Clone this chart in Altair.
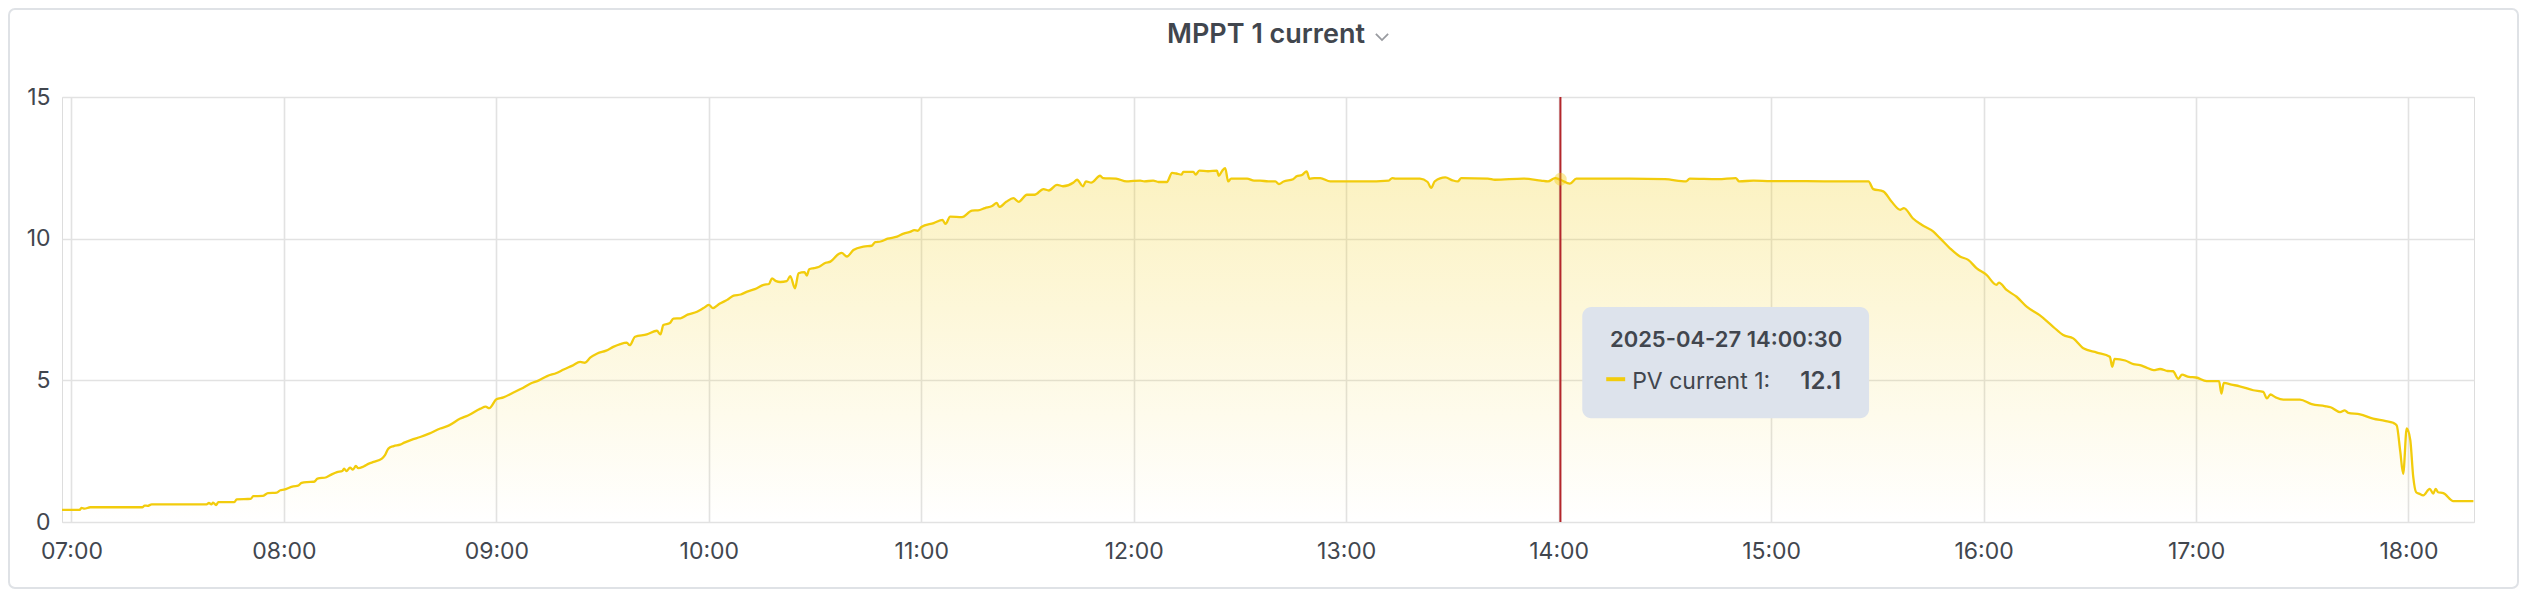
import altair as alt
import pandas as pd

DAY = "2025-04-27"
SERIES_NAME = "PV current 1"
TITLE = "MPPT 1 current"
LINE_COLOR = "#F2CC0C"
TEXT_COLOR = "#41464e"

times = [
    "06:57:20", "07:02:20", "07:02:50", "07:03:40", "07:05:20", "07:20:00", "07:20:40", "07:21:30",
    "07:22:40", "07:38:10", "07:38:50", "07:39:30", "07:40:00", "07:40:50", "07:41:30", "07:46:00",
    "07:46:40", "07:50:40", "07:51:20", "07:54:00", "07:55:30", "07:58:00", "07:59:00", "08:00:00",
    "08:02:40", "08:04:00", "08:05:00", "08:06:30", "08:08:30", "08:09:30", "08:12:00", "08:13:30",
    "08:15:00", "08:16:30", "08:17:00", "08:17:40", "08:18:40", "08:19:30", "08:20:20", "08:21:00",
    "08:22:30", "08:24:00", "08:25:20", "08:27:40", "08:28:30", "08:29:30", "08:31:00", "08:32:50",
    "08:34:00", "08:36:00", "08:38:30", "08:41:00", "08:44:10", "08:46:30", "08:49:50", "08:52:00",
    "08:55:30", "08:57:00", "08:58:00", "09:00:00", "09:02:00", "09:04:50", "09:07:00", "09:09:40",
    "09:12:00", "09:14:20", "09:17:00", "09:19:00", "09:21:30", "09:23:40", "09:25:00", "09:26:30",
    "09:28:30", "09:31:00", "09:33:00", "09:35:00", "09:36:50", "09:37:40", "09:39:10", "09:42:30",
    "09:45:20", "09:46:20", "09:47:10", "09:49:00", "09:50:00", "09:52:00", "09:54:00", "09:56:40",
    "09:58:30", "10:00:00", "10:01:10", "10:03:00", "10:05:10", "10:07:00", "10:09:00", "10:10:50",
    "10:13:00", "10:15:30", "10:17:00", "10:17:50", "10:19:00", "10:20:10", "10:22:00", "10:23:00",
    "10:24:20", "10:25:20", "10:27:00", "10:27:40", "10:28:20", "10:29:40", "10:31:00", "10:33:00",
    "10:34:20", "10:36:40", "10:37:30", "10:39:00", "10:40:50", "10:43:40", "10:46:00", "10:47:00",
    "10:48:30", "10:50:30", "10:53:10", "10:55:00", "10:57:00", "10:58:00", "10:59:00", "11:00:00",
    "11:03:30", "11:06:00", "11:06:50", "11:08:10", "11:11:30", "11:14:20", "11:16:00", "11:18:00",
    "11:20:00", "11:21:20", "11:22:00", "11:24:00", "11:26:00", "11:27:30", "11:29:50", "11:32:00",
    "11:34:30", "11:36:00", "11:38:20", "11:40:00", "11:43:00", "11:44:00", "11:45:40", "11:46:30",
    "11:48:00", "11:50:30", "11:51:20", "11:55:00", "11:58:00", "12:00:00", "12:01:50", "12:03:00",
    "12:05:30", "12:07:00", "12:09:20", "12:10:50", "12:12:00", "12:13:30", "12:14:00", "12:16:50",
    "12:17:30", "12:18:30", "12:21:00", "12:23:30", "12:24:00", "12:25:00", "12:25:50", "12:26:40",
    "12:27:30", "12:32:00", "12:34:00", "12:35:40", "12:38:00", "12:40:00", "12:41:00", "12:42:20",
    "12:45:00", "12:46:00", "12:47:30", "12:48:50", "12:49:40", "12:51:00", "12:52:40", "12:55:30",
    "13:00:00", "13:05:00", "13:12:00", "13:13:00", "13:14:00", "13:20:50", "13:23:00", "13:24:00",
    "13:25:00", "13:28:00", "13:30:00", "13:31:30", "13:32:30", "13:40:00", "13:42:00", "13:50:00",
    "13:55:00", "13:57:00", "13:59:00", "14:00:30", "14:03:10", "14:05:00", "14:20:00", "14:30:00",
    "14:36:00", "14:37:00", "14:45:00", "14:50:00", "14:51:00", "14:55:00", "15:00:00", "15:10:00",
    "15:20:00", "15:27:30", "15:28:50", "15:31:40", "15:34:00", "15:36:30", "15:37:30", "15:40:00",
    "15:42:30", "15:45:50", "15:47:40", "15:50:30", "15:53:20", "15:55:40", "15:58:00", "16:00:50",
    "16:03:40", "16:04:20", "16:06:30", "16:09:20", "16:12:10", "16:15:50", "16:19:40", "16:22:30",
    "16:25:20", "16:28:10", "16:32:00", "16:35:40", "16:36:20", "16:37:00", "16:40:00", "16:42:20",
    "16:44:10", "16:46:00", "16:48:00", "16:49:50", "16:52:00", "16:53:30", "16:55:00", "16:56:00",
    "16:58:00", "17:00:00", "17:03:00", "17:06:30", "17:07:10", "17:07:50", "17:10:00", "17:12:20",
    "17:16:10", "17:19:00", "17:20:00", "17:21:00", "17:22:30", "17:24:40", "17:29:20", "17:32:40",
    "17:36:20", "17:38:00", "17:40:40", "17:42:00", "17:43:00", "17:46:20", "17:50:00", "17:53:20",
    "17:55:40", "17:56:40", "17:57:40", "17:58:30", "17:59:30", "18:00:30", "18:01:20", "18:02:10",
    "18:03:00", "18:04:10", "18:06:00", "18:07:00", "18:07:40", "18:08:20", "18:09:50", "18:12:40",
    "18:18:20",
]

values = [
    0.43, 0.43, 0.50, 0.47, 0.52, 0.52, 0.58, 0.57,
    0.62, 0.62, 0.67, 0.62, 0.68, 0.60, 0.70, 0.70,
    0.80, 0.82, 0.91, 0.92, 1.02, 1.04, 1.12, 1.14,
    1.26, 1.28, 1.38, 1.41, 1.42, 1.53, 1.58, 1.68,
    1.76, 1.80, 1.88, 1.80, 1.92, 1.85, 1.98, 1.90,
    1.96, 2.06, 2.12, 2.24, 2.35, 2.59, 2.68, 2.73,
    2.80, 2.90, 3.00, 3.12, 3.30, 3.40, 3.65, 3.76,
    4.00, 4.07, 4.02, 4.33, 4.40, 4.57, 4.70, 4.89,
    5.00, 5.15, 5.26, 5.38, 5.52, 5.65, 5.62, 5.80,
    5.95, 6.05, 6.18, 6.28, 6.33, 6.24, 6.54, 6.62,
    6.75, 6.62, 6.95, 7.02, 7.18, 7.19, 7.32, 7.42,
    7.55, 7.66, 7.55, 7.70, 7.84, 7.99, 8.03, 8.13,
    8.22, 8.37, 8.40, 8.60, 8.50, 8.47, 8.50, 8.68,
    8.25, 8.78, 8.82, 8.70, 8.92, 8.96, 9.00, 9.15,
    9.19, 9.46, 9.50, 9.37, 9.60, 9.72, 9.75, 9.88,
    9.90, 10.00, 10.07, 10.18, 10.25, 10.30, 10.28, 10.41,
    10.55, 10.66, 10.52, 10.78, 10.76, 10.99, 11.00, 11.08,
    11.15, 11.26, 11.12, 11.30, 11.43, 11.30, 11.55, 11.55,
    11.75, 11.70, 11.90, 11.85, 11.98, 12.08, 11.85, 12.02,
    11.98, 12.22, 12.14, 12.12, 12.02, 12.04, 12.05, 12.02,
    12.05, 12.00, 12.00, 12.32, 12.30, 12.26, 12.36, 12.36,
    12.26, 12.40, 12.38, 12.40, 12.22, 12.40, 12.49, 12.02,
    12.12, 12.12, 12.05, 12.05, 12.02, 12.02, 11.93, 12.02,
    12.10, 12.20, 12.25, 12.37, 12.11, 12.14, 12.14, 12.02,
    12.02, 12.02, 12.05, 12.14, 12.12, 12.12, 12.00, 11.79,
    12.02, 12.16, 12.06, 12.02, 12.14, 12.12, 12.08, 12.12,
    12.05, 12.02, 12.14, 12.08, 11.94, 12.12, 12.12, 12.10,
    12.02, 12.12, 12.10, 12.14, 12.02, 12.05, 12.03, 12.03,
    12.02, 12.02, 11.75, 11.67, 11.31, 11.02, 11.08, 10.72,
    10.49, 10.25, 10.02, 9.66, 9.37, 9.25, 8.96, 8.72,
    8.37, 8.45, 8.19, 7.95, 7.60, 7.30, 6.89, 6.60,
    6.48, 6.13, 5.98, 5.83, 5.48, 5.76, 5.70, 5.57,
    5.54, 5.45, 5.36, 5.40, 5.33, 5.32, 5.05, 5.20,
    5.12, 5.10, 4.97, 4.97, 4.53, 4.91, 4.85, 4.79,
    4.65, 4.59, 4.36, 4.50, 4.40, 4.32, 4.32, 4.16,
    4.09, 4.05, 3.88, 3.94, 3.85, 3.80, 3.65, 3.57,
    3.50, 3.41, 2.50, 1.70, 3.30, 2.90, 1.60, 1.05,
    1.00, 0.94, 1.17, 1.00, 1.17, 1.05, 1.02, 0.74,
    0.74,
]

hour_ticks = [7, 8, 9, 10, 11, 12, 13, 14, 15, 16, 17, 18]
y_ticks = [0, 5, 10, 15]
x_range = ["06:57:20", "18:18:30"]

# hover state (crosshair + tooltip)
hover_time = "14:00:30"
hover_value = 12.1
tooltip_box = {"t1": "14:06:40", "t2": "15:27:40", "v1": 7.59, "v2": 3.66}
tooltip_header_pos = ("14:47:17", 6.18)
tooltip_swatch = ("14:13:26", "14:18:47", 5.04)
tooltip_label_pos = ("14:20:45", 4.70)
tooltip_value_pos = ("15:19:45", 4.70)


def hrs(t):
    h, m, s = (int(p) for p in t.split(":"))
    return h + m / 60 + s / 3600


df = pd.DataFrame({"hour": [hrs(t) for t in times], "current": values})

x_scale = alt.Scale(domain=[hrs(x_range[0]), hrs(x_range[1])], nice=False, zero=False)
y_scale = alt.Scale(domain=[0, 15], nice=False)

common_axis = dict(
    labelFontSize=23,
    labelColor=TEXT_COLOR,
    labelFont="Inter",
    ticks=False,
    tickSize=0,
    domain=False,
    grid=True,
    gridColor="#e2e2e2",
    gridWidth=1.6,
    title=None,
)
x_axis = alt.Axis(
    values=hour_ticks,
    labelExpr="(datum.value < 10 ? '0' : '') + datum.value + ':00'",
    labelPadding=18,
    labelFlush=False,
    labelOverlap=False,
    **common_axis,
)
y_axis = alt.Axis(values=y_ticks, labelPadding=12, **common_axis)

X = alt.X("hour:Q", scale=x_scale, axis=x_axis)
Y = alt.Y("current:Q", scale=y_scale, axis=y_axis)

gradient = alt.Gradient(
    gradient="linear",
    stops=[
        alt.GradientStop(color="rgba(242,204,12,0)", offset=0),
        alt.GradientStop(color="rgba(242,204,12,0.26)", offset=1),
    ],
    x1=1, x2=1, y1=1, y2=0,
)

area = alt.Chart(df).mark_area(interpolate="monotone", color=gradient).encode(x=X, y=Y)
line = alt.Chart(df).mark_line(interpolate="monotone", color=LINE_COLOR, strokeWidth=2.3).encode(
    x=alt.X("hour:Q", scale=x_scale), y=alt.Y("current:Q", scale=y_scale)
)

hover_df = pd.DataFrame({"hour": [hrs(hover_time)], "current": [hover_value]})
crosshair = alt.Chart(hover_df).mark_rule(color="#b3262b", strokeWidth=2).encode(
    x=alt.X("hour:Q", scale=x_scale)
)
hover_dot = alt.Chart(hover_df).mark_circle(color=LINE_COLOR, opacity=0.4, size=160).encode(
    x=alt.X("hour:Q", scale=x_scale), y=alt.Y("current:Q", scale=y_scale)
)

box_df = pd.DataFrame({
    "h1": [hrs(tooltip_box["t1"])], "h2": [hrs(tooltip_box["t2"])],
    "v1": [tooltip_box["v1"]], "v2": [tooltip_box["v2"]],
})
box = alt.Chart(box_df).mark_rect(color="#dde3ec", cornerRadius=9).encode(
    x=alt.X("h1:Q", scale=x_scale), x2="h2:Q",
    y=alt.Y("v1:Q", scale=y_scale), y2="v2:Q",
)

sw_df = pd.DataFrame({"h1": [hrs(tooltip_swatch[0])], "h2": [hrs(tooltip_swatch[1])], "v": [tooltip_swatch[2]]})
swatch = alt.Chart(sw_df).mark_rule(color=LINE_COLOR, strokeWidth=4).encode(
    x=alt.X("h1:Q", scale=x_scale), x2="h2:Q", y=alt.Y("v:Q", scale=y_scale)
)

header_df = pd.DataFrame({"hour": [hrs(tooltip_header_pos[0])], "v": [tooltip_header_pos[1]],
                          "label": [f"{DAY} {hover_time}"]})
label_df = pd.DataFrame({"hour": [hrs(tooltip_label_pos[0])], "v": [tooltip_label_pos[1]],
                         "label": [f"{SERIES_NAME}:"]})
value_df = pd.DataFrame({"hour": [hrs(tooltip_value_pos[0])], "v": [tooltip_value_pos[1]],
                         "label": [f"{hover_value:.1f}"]})


def tip_text(d, align, size, weight):
    return alt.Chart(d).mark_text(
        align=align, baseline="alphabetic", font="Inter", fontSize=size, fontWeight=weight, color=TEXT_COLOR
    ).encode(x=alt.X("hour:Q", scale=x_scale), y=alt.Y("v:Q", scale=y_scale), text="label:N")


tip_header = tip_text(header_df, "center", 22, 600)
tip_label = tip_text(label_df, "left", 23, 400)
tip_value = tip_text(value_df, "right", 24, 600)

deco = pd.DataFrame({"k": [0]})
title = alt.Chart(deco).mark_text(
    align="center", baseline="alphabetic", font="Inter", fontSize=27, fontWeight=600, color=TEXT_COLOR,
    text=TITLE,
).encode(x=alt.value(1204), y=alt.value(-54))
chevron = alt.Chart(deco).mark_point(
    shape="M -1 -0.5 L 0 0.5 L 1 -0.5", filled=False, color="#6e7179", strokeWidth=1.8, size=150,
).encode(x=alt.value(1320), y=alt.value(-60))
frame = alt.Chart(deco).mark_rect(
    fill="transparent", stroke="#dfe2e6", strokeWidth=2, cornerRadius=6,
).encode(x=alt.value(-53), x2=alt.value(2456), y=alt.value(-88), y2=alt.value(491))

chart = alt.layer(
    frame, area, line, crosshair, hover_dot, box, swatch, tip_header, tip_label, tip_value, title, chevron
).properties(
    width=2412,
    height=425,
    padding={"left": 54, "top": 89, "right": 46, "bottom": 68},
    autosize=alt.AutoSizeParams(type="none"),
    background="white",
).configure_view(strokeWidth=0).configure(font="Inter")

chart.save("out.html", embed_options={"renderer": "svg", "actions": False})
